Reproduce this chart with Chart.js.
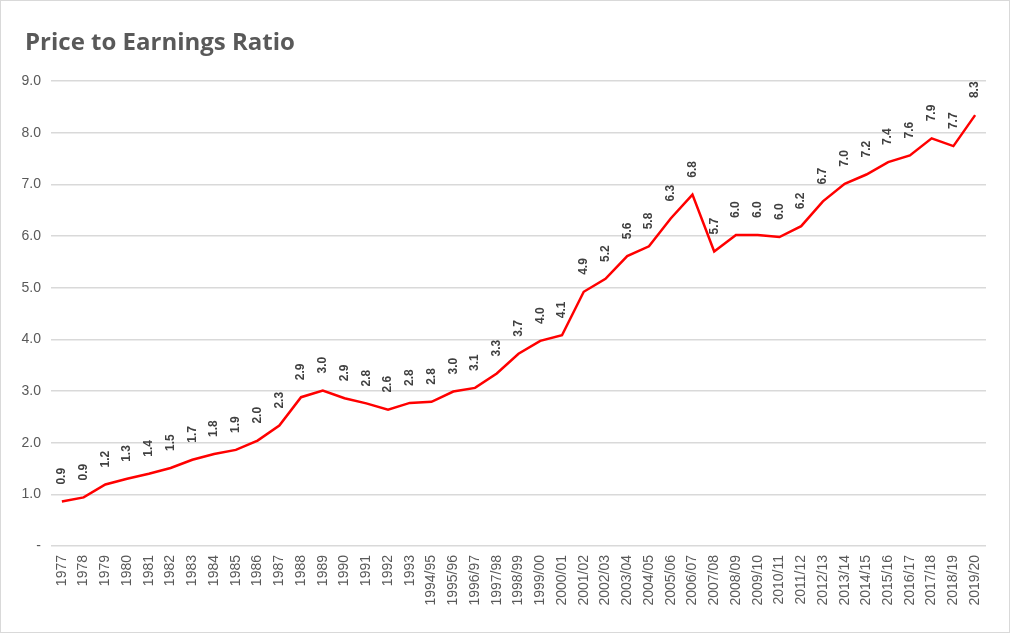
<!DOCTYPE html>
<html>
<head>
<meta charset="utf-8">
<script src="https://cdn.jsdelivr.net/npm/chart.js@4"></script>
<style>
  html, body { margin: 0; padding: 0; background: #fff; }
  #wrap {
    width: 1010px; height: 633px; box-sizing: border-box;
    border: 1px solid #d9d9d9; background: #fff;
  }
  canvas { display: block; }
</style>
</head>
<body>
<div id="wrap"><canvas id="peChart" width="1008" height="631"></canvas></div>
<script>
// Price to earnings ratio, per year
const chartTitle = 'Price to Earnings Ratio';
const years = [
    '1977', '1978', '1979', '1980', '1981', '1982', '1983', '1984', '1985', '1986',
    '1987', '1988', '1989', '1990', '1991', '1992', '1993',
    '1994/95', '1995/96', '1996/97', '1997/98', '1998/99', '1999/00', '2000/01',
    '2001/02', '2002/03', '2003/04', '2004/05', '2005/06', '2006/07', '2007/08',
    '2008/09', '2009/10', '2010/11', '2011/12', '2012/13', '2013/14', '2014/15',
    '2015/16', '2016/17', '2017/18', '2018/19', '2019/20'
];
const peRatio = [
    0.86, 0.94, 1.19, 1.30, 1.40, 1.51, 1.67, 1.78, 1.86, 2.04,
    2.33, 2.88, 3.01, 2.86, 2.76, 2.64, 2.77,
    2.79, 2.99, 3.06, 3.34, 3.72, 3.97, 4.08,
    4.92, 5.17, 5.61, 5.80, 6.34, 6.80, 5.70,
    6.02, 6.02, 5.98, 6.19, 6.67, 7.01, 7.19,
    7.43, 7.56, 7.89, 7.74, 8.34
];
const yTicks = [0, 1, 2, 3, 4, 5, 6, 7, 8, 9];

// Title drawn by hand so it can sit indented from the y labels
const titlePlugin = {
    id: 'leftTitle',
    afterDraw(chart) {
        const ctx = chart.ctx;
        ctx.save();
        ctx.fillStyle = '#595959';
        ctx.font = 'bold 24px "Open Sans", sans-serif';
        ctx.textAlign = 'left';
        ctx.textBaseline = 'alphabetic';
        ctx.fillText(chartTitle, 24, 49);
        ctx.restore();
    }
};

// Draws rotated value labels above each point
const valueLabels = {
    id: 'valueLabels',
    afterDatasetsDraw(chart) {
        const ctx = chart.ctx;
        const meta = chart.getDatasetMeta(0);
        ctx.save();
        ctx.fillStyle = '#404040';
        ctx.font = 'bold 12px "Liberation Sans", Arial, sans-serif';
        ctx.textAlign = 'left';
        ctx.textBaseline = 'middle';
        meta.data.forEach((pt, i) => {
            ctx.save();
            ctx.translate(pt.x, pt.y - 17);
            ctx.rotate(-Math.PI / 2);
            ctx.fillText(peRatio[i].toFixed(1), 0, 0);
            ctx.restore();
        });
        ctx.restore();
    }
};

new Chart(document.getElementById('peChart'), {
    type: 'line',
    data: {
        labels: years,
        datasets: [{
            label: 'P/E',
            data: peRatio,
            borderColor: '#ff0000',
            borderWidth: 2.5,
            pointRadius: 0,
            tension: 0,
            fill: false
        }]
    },
    options: {
        responsive: false,
        animation: false,
        layout: { padding: { left: 0, right: 23, top: 80, bottom: 0 } },
        plugins: {
            legend: { display: false },
            tooltip: { enabled: false },
            title: { display: false }
        },
        scales: {
            x: {
                offset: true,
                grid: { display: false, drawTicks: false },
                border: { display: false },
                ticks: {
                    color: '#595959',
                    font: { family: '"Liberation Sans", Arial, sans-serif', size: 14 },
                    minRotation: 90,
                    maxRotation: 90,
                    autoSkip: false,
                    padding: 9
                },
                afterFit(scale) { scale.height = 86; }
            },
            y: {
                min: 0,
                max: 9,
                afterBuildTicks(scale) { scale.ticks = yTicks.map(v => ({ value: v })); },
                grid: { color: '#d9d9d9', lineWidth: 1.5, drawTicks: false },
                border: { display: false },
                ticks: {
                    color: '#595959',
                    font: { family: '"Liberation Sans", Arial, sans-serif', size: 14 },
                    padding: 10,
                    callback: v => v === 0 ? '-' : v.toFixed(1)
                },
                afterFit(scale) { scale.width = 50; }
            }
        }
    },
    plugins: [valueLabels, titlePlugin]
});
</script>
</body>
</html>
